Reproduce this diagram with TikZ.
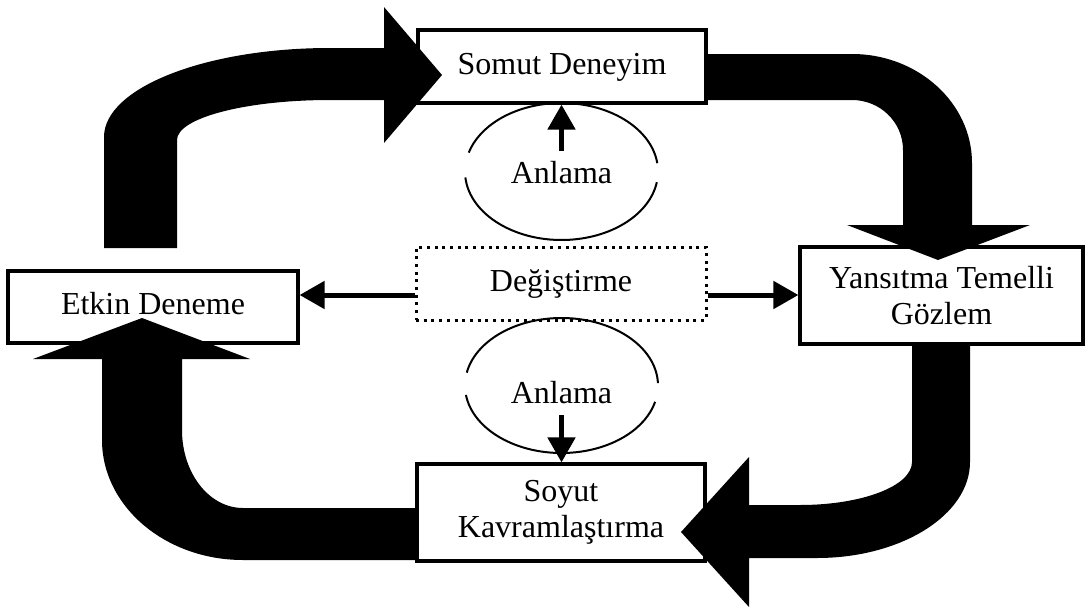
\documentclass[tikz,border=0pt]{standalone}
\usepackage{fontspec}
\setmainfont{Liberation Serif}
\usetikzlibrary{arrows.meta}
\begin{document}
\begin{tikzpicture}[x=1pt,y=-1pt,
  labelfont/.style={font=\fontsize{32}{36}\selectfont},
  oneline/.style={text height=22pt,text depth=7pt},
  box/.style={draw,line width=3.2pt,fill=white,inner sep=0pt,labelfont},
  dotbox/.style={draw,line width=3pt,dash pattern=on 3pt off 4.7pt,inner sep=0pt,labelfont},
  thinarrow/.style={line width=5pt,-{Triangle[length=25pt,width=27pt]}},
  bigarrow/.style={fill=black},
  cycleline/.style={line width=2pt}
]
\useasboundingbox (0,0) rectangle (1087,608);

% stages of the cycle
\node[box,oneline,minimum width=288pt,minimum height=73pt] (somut) at (562,66.5) {Somut Deneyim};
\node[box,align=center,minimum width=283pt,minimum height=97pt] (yans) at (941.5,295.5) {Yansıtma Temelli\\Gözlem};
\node[box,align=center,minimum width=288pt,minimum height=97pt] (soyut) at (561,512.5) {Soyut\\Kavramlaştırma};
\node[box,oneline,minimum width=290pt,minimum height=72pt] (etkin) at (153,307) {Etkin Deneme};
\node[dotbox,oneline,minimum width=290pt,minimum height=73pt] (deg) at (561,283.5) {Değiştirme};

% "Anlama" loops
\coordinate (c1) at (561.5,171.5);
\coordinate (c2) at (561.5,385.5);
\draw[cycleline] (c1) ++(-7:96.5 and 68.5) arc[start angle=-7,end angle=-164,x radius=96.5,y radius=68.5];
\draw[cycleline] (c1) ++(175:96.5 and 68.5) arc[start angle=175,end angle=9,x radius=96.5,y radius=68.5];
\draw[cycleline] (c2) ++(-2:96.5 and 67.5) arc[start angle=-2,end angle=-169,x radius=96.5,y radius=67.5];
\draw[cycleline] (c2) ++(172:96.5 and 67.5) arc[start angle=172,end angle=14,x radius=96.5,y radius=67.5];
\node[labelfont,oneline] (an1) at (561.5,175.5) {Anlama};
\node[labelfont,oneline] (an2) at (561.5,395.5) {Anlama};

% thin arrows
\coordinate (hy) at (0,295);
\coordinate (up0) at (561.5,151);
\coordinate (dn0) at (561.5,415);
\draw[thinarrow] (deg.west |- hy) -- (etkin.east |- hy);
\draw[thinarrow] (deg.east |- hy) -- (yans.west |- hy);
\draw[thinarrow] (up0) -- (somut.south -| up0);
\draw[thinarrow] (dn0) -- (soyut.north -| dn0);

% bent block arrows around the cycle
\fill[bigarrow] (104,248) -- (104,137) .. controls (104,88) and (205,48) .. (330,48)
  -- (384,48) -- (384,7) -- (442,75) -- (384,143) -- (384,100) -- (330,100)
  .. controls (245.5,100) and (177,118) .. (177,140) -- (177,248) -- cycle;
\fill[bigarrow] (707.6,54) -- (852,54) .. controls (918,54) and (972,103) .. (972,163)
  -- (972,225) -- (1030,225) -- (938,260) -- (847,225) -- (903,225) -- (903,150)
  .. controls (903,122) and (880,100) .. (852,100) -- (707.6,100) -- cycle;
\fill[bigarrow] (912,345.6) -- (970,345.6) -- (970,462) .. controls (970,515) and (901,558) .. (817,558)
  -- (749,558) -- (749,607) -- (681,532) -- (749,457) -- (749,505) -- (800,505)
  .. controls (862,505) and (912,486) .. (912,462) -- cycle;
\fill[bigarrow] (415.4,560) -- (243,560) .. controls (165,560) and (102,506) .. (102,440)
  -- (102,359) -- (33,359) -- (142,318) -- (250,359) -- (182,359) -- (182,430)
  .. controls (182,473) and (209,508) .. (243,508) -- (415.4,508) -- cycle;
\end{tikzpicture}
\end{document}
